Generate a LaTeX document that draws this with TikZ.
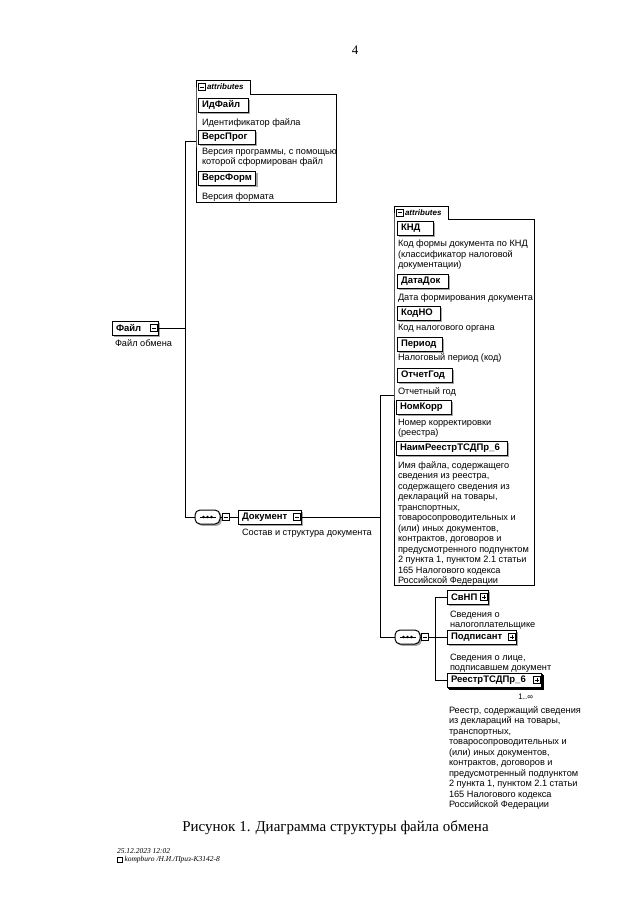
\documentclass[tikz,border=0pt]{standalone}
\usepackage{fontspec}
\setmainfont{Liberation Sans}
\newfontfamily\titlefont{Liberation Serif}
\usetikzlibrary{shadows}
\newcommand{\elbox}[2]{\setbox0\hbox{#2}\ifdim\wd0<#1\makebox[#1][l]{#2}\else\box0\fi}
\begin{document}
\begin{tikzpicture}[x=1pt,y=-1pt,
  every node/.style={inner sep=0pt, outer sep=0pt},
  desc/.style={anchor=north west, align=left, font=\fontsize{9.2}{10.5}\selectfont},
  attr/.style={draw, fill=white, line width=1pt, anchor=west, minimum height=14pt, inner xsep=4pt,
    font=\fontsize{9.5}{11}\selectfont\bfseries,
    drop shadow={shadow xshift=1.8pt, shadow yshift=-1.8pt, fill=gray!70, opacity=1}},
  multi/.style={draw, fill=white, line width=1pt, anchor=west, minimum height=14pt, inner xsep=4pt,
    font=\fontsize{9.5}{11}\selectfont\bfseries,
    double copy shadow={shadow xshift=1.4pt, shadow yshift=-1.4pt}},
  sqbase/.style={draw, fill=white, line width=0.6pt, minimum size=7pt, inner sep=0pt},
  sqminus/.style={sqbase, path picture={\draw[line width=0.6pt] ([xshift=1.5pt]path picture bounding box.west) -- ([xshift=-1.5pt]path picture bounding box.east);}},
  sqplus/.style={sqbase, path picture={\draw[line width=0.6pt] ([xshift=1.5pt]path picture bounding box.west) -- ([xshift=-1.5pt]path picture bounding box.east) ([yshift=-1.5pt]path picture bounding box.north) -- ([yshift=1.5pt]path picture bounding box.south);}},
  conn/.style={line width=0.8pt},
  gframe/.style={line width=0.7pt},
  tabtext/.style={anchor=west, font=\fontsize{8}{9}\selectfont\bfseries\itshape},
  seqshape/.style={draw, fill=white, rounded corners=5pt, minimum width=25pt, minimum height=14pt, line width=1pt,
    drop shadow={shadow xshift=1.8pt, shadow yshift=-1.8pt, fill=gray!70, opacity=1}},
]
\fill[white] (0,0) rectangle (640,905);
\useasboundingbox (0,0) rectangle (640,905);

% page number
\node[font=\titlefont\fontsize{13}{15}\selectfont] (pg) at (355,50) {4};

% ---------- group 1 (attributes of Файл)
\draw[gframe] (196,94) -- (196,80) -- (250,80) -- (250,94) -- (336,94) -- (336,202) -- (196,202) -- cycle;
\node[sqminus] (t1m) at (201.5,87) {};
\node[tabtext] (t1) at (207,87) {attributes};
\node[attr] (idf) at (198,105) {\elbox{42pt}{ИдФайл}};
\node[desc] (idfd) at (202,119) {Идентификатор файла};
\node[attr] (vp) at (198,137) {\elbox{49pt}{ВерсПрог}};
\node[desc] (vpd) at (202,148) {Версия программы, с помощью\\которой сформирован файл};
\node[attr] (vf) at (198,178.5) {\elbox{47pt}{ВерсФорм}};
\node[desc] (vfd) at (202,193) {Версия формата};
\coordinate (g1w) at (196,141);

% ---------- Файл
\node[attr] (fail) at (112,328) {\elbox{38pt}{Файл}};
\node[sqminus] (failm) at ([xshift=-4pt]fail.east) {};
\node[desc] (faild) at (115,340) {Файл обмена};

% connector 1
\coordinate (j1a) at (185,141);
\coordinate (j1b) at (185,517);
\node[seqshape] (seq1) at (207.5,517) {};
\draw[line width=0.9pt] ([xshift=-8pt]seq1.center) -- ([xshift=8pt]seq1.center);
\foreach \d in {-4,0,4} \fill ([xshift=\d pt]seq1.center) circle (1.3pt);
\node[sqminus] (seq1m) at (225.5,517) {};
\draw[conn] (failm.east) -- (failm.east -| j1a);
\draw[conn] (g1w) -- (j1a) -- (j1b) -- (seq1.west);
\draw[conn] (seq1.east) -- (seq1m.west);

% ---------- Документ
\node[attr] (doc) at (238,517) {\elbox{55pt}{Документ}};
\node[sqminus] (docm) at ([xshift=-4pt]doc.east) {};
\draw[conn] (seq1m.east) -- (doc.west);
\node[desc] (docd) at (242,529) {Состав и структура документа};

% ---------- group 2 (attributes of Документ)
\draw[gframe] (394,219) -- (394,206) -- (448,206) -- (448,219) -- (534,219) -- (534,585) -- (394,585) -- cycle;
\node[sqminus] (t2m) at (399.5,212.5) {};
\node[tabtext] (t2) at (405,212.5) {attributes};
\coordinate (g2w) at (394,395);

\node[attr] (knd) at (397,228) {\elbox{28pt}{КНД}};
\node[desc] (kndd) at (398,240) {Код формы документа по КНД\\(классификатор налоговой\\документации)};
\node[attr] (dd) at (397,281) {\elbox{43pt}{ДатаДок}};
\node[desc] (ddd) at (398,294) {Дата формирования документа};
\node[attr] (kno) at (397,313) {\elbox{35pt}{КодНО}};
\node[desc] (knod) at (398,324) {Код налогового органа};
\node[attr] (per) at (397,344) {\elbox{37pt}{Период}};
\node[desc] (perd) at (398,354) {Налоговый период (код)};
\node[attr] (og) at (397,375) {\elbox{47pt}{ОтчетГод}};
\node[desc] (ogd) at (398,388) {Отчетный год};
\node[attr] (nk) at (396,407) {\elbox{47pt}{НомКорр}};
\node[desc] (nkd) at (398,419) {Номер корректировки\\(реестра)};
\node[attr] (naim) at (396,448) {\elbox{103pt}{НаимРеестрТСДПр\_6}};
\node[desc] (naimd) at (398,461.5) {Имя файла, содержащего\\сведения из реестра,\\содержащего сведения из\\деклараций на товары,\\транспортных,\\товаросопроводительных и\\(или) иных документов,\\контрактов, договоров и\\предусмотренного подпунктом\\2 пункта 1, пунктом 2.1 статьи\\165 Налогового кодекса\\Российской Федерации};

% connector 2
\coordinate (j2a) at (380,395);
\coordinate (j2b) at (380,637);
\node[seqshape] (seq2) at (407.5,637) {};
\draw[line width=0.9pt] ([xshift=-8pt]seq2.center) -- ([xshift=8pt]seq2.center);
\foreach \d in {-4,0,4} \fill ([xshift=\d pt]seq2.center) circle (1.3pt);
\node[sqminus] (seq2m) at (424.5,637) {};
\draw[conn] (docm.east) -- (docm.east -| j2a);
\draw[conn] (g2w) -- (j2a) -- (j2b) -- (seq2.west);
\draw[conn] (seq2.east) -- (seq2m.west);

% ---------- group 3 (children of sequence)
\coordinate (j3a) at (435,597);
\coordinate (j3b) at (435,680);
\node[attr] (svnp) at (447,597) {\elbox{33pt}{СвНП}};
\node[sqplus] (svnpp) at ([xshift=-4pt]svnp.east) {};
\node[desc] (svnpd) at (450,611) {Сведения о\\налогоплательщике};
\node[attr] (podp) at (447,637) {\elbox{58pt}{Подписант\hspace{10pt}}};
\node[sqplus] (podpp) at ([xshift=-4pt]podp.east) {};
\node[desc] (podpd) at (450,654) {Сведения о лице,\\подписавшем документ};
\node[multi] (reestr) at (447,680) {\elbox{86pt}{РеестрТСДПр\_6\hspace{10pt}}};
\node[sqplus] (reestrp) at ([xshift=-4pt]reestr.east) {};
\node[anchor=east, font=\fontsize{8}{9}\selectfont] (occ) at (533,697) {1..∞};
\node[desc] (reestrd) at (449,706.5) {Реестр, содержащий сведения\\из деклараций на товары,\\транспортных,\\товаросопроводительных и\\(или) иных документов,\\контрактов, договоров и\\предусмотренный подпунктом\\2 пункта 1, пунктом 2.1 статьи\\165 Налогового кодекса\\Российской Федерации};

\draw[conn] (seq2m.east) -- (seq2m.east -| j3a);
\draw[conn] (svnp.west) -- (j3a) -- (j3b) -- (reestr.west);
\draw[conn] (podp.west) -- (podp.west -| j3a);

% ---------- caption and footer
\node[font=\titlefont\fontsize{15}{17}\selectfont] (title) at (335.5,828) {Рисунок 1. Диаграмма структуры файла обмена};
\node[anchor=west, font=\titlefont\itshape\fontsize{7.5}{9}\selectfont] (f1) at (117,851) {25.12.2023 12:02};
\node[draw, line width=0.4pt, minimum width=5pt, minimum height=5pt] (ficon) at (120,860) {};
\node[anchor=west, font=\titlefont\itshape\fontsize{7.5}{9}\selectfont] (f2) at (124.5,860) {kompburo /Н.И./Приз-К3142-8};
\end{tikzpicture}
\end{document}
